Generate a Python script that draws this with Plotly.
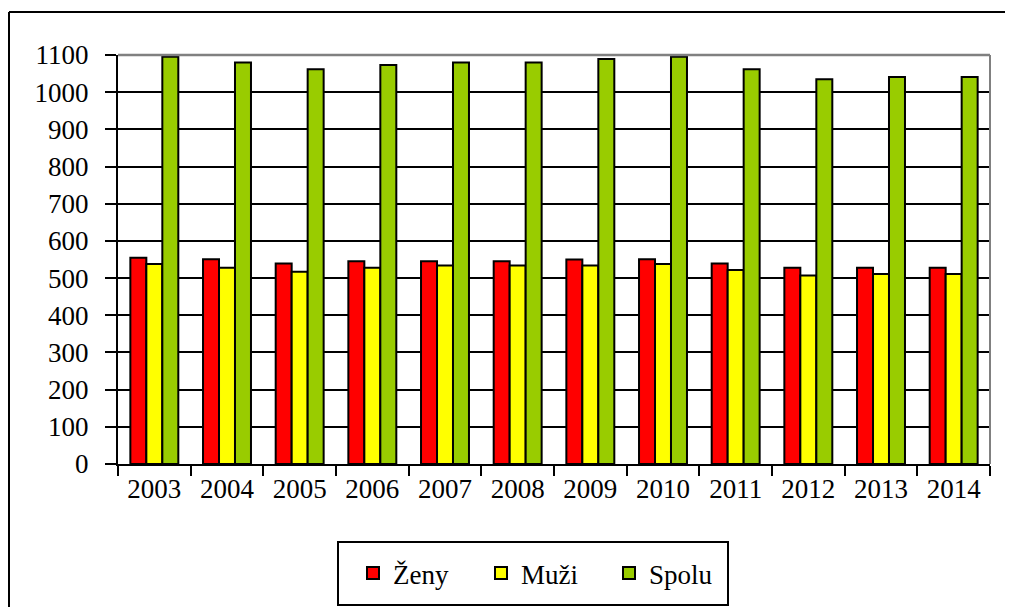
import plotly.graph_objects as go

years = ["2003", "2004", "2005", "2006", "2007", "2008", "2009", "2010", "2011", "2012", "2013", "2014"]
zeny = [555, 551, 539, 545, 545, 545, 550, 551, 539, 528, 528, 528]
muzi = [538, 528, 517, 528, 534, 534, 534, 538, 522, 507, 511, 511]
spolu = [1095, 1080, 1062, 1073, 1080, 1080, 1089, 1095, 1062, 1035, 1041, 1041]
series_names = ["Ženy", "Muži", "Spolu"]
colors = ["#FF0000", "#FFFF00", "#99CC00"]

# page has an 8px body margin; figure coords = page coords - 8
W, H = 997, 599
L, R, T, B = 110, 15, 47, 143
pw = W - L - R
ph = H - T - B

font = "Liberation Serif"

fig = go.Figure()
for name, vals, col in zip(series_names, [zeny, muzi, spolu], colors):
    fig.add_trace(go.Bar(
        x=years, y=vals, name=name,
        marker=dict(color=col, line=dict(color="black", width=2)),
    ))

def px_x(px):
    return (px - L) / pw

def px_y(py):
    return (H - B - py) / ph

shapes = [
    dict(type="line", xref="paper", yref="paper", x0=px_x(1), x1=px_x(1100), y0=px_y(4), y1=px_y(4),
         line=dict(color="black", width=2)),
    dict(type="line", xref="paper", yref="paper", x0=px_x(1), x1=px_x(1), y0=px_y(4), y1=px_y(700),
         line=dict(color="black", width=2)),
    dict(type="line", xref="paper", yref="paper", x0=0, x1=1, y0=1, y1=1,
         line=dict(color="#808080", width=2.5), layer="above"),
    dict(type="line", xref="paper", yref="paper", x0=1, x1=1, y0=0, y1=1,
         line=dict(color="#808080", width=2), layer="above"),
    # legend box
    dict(type="rect", xref="paper", yref="paper", x0=px_x(330), x1=px_x(720), y0=px_y(534), y1=px_y(597),
         line=dict(color="black", width=2), fillcolor="rgba(0,0,0,0)"),
]

fig.update_layout(
    width=W, height=H,
    margin=dict(l=L, r=R, t=T, b=B, autoexpand=False),
    paper_bgcolor="white", plot_bgcolor="white",
    barmode="group", bargap=0.34, bargroupgap=0,
    font=dict(family=font, size=27, color="black"),
    shapes=shapes,
    showlegend=True,
    legend=dict(
        orientation="h", x=px_x(345), xanchor="left", y=px_y(565.5), yanchor="middle",
        borderwidth=0, bgcolor="rgba(0,0,0,0)",
        font=dict(family=font, size=27, color="black"),
        entrywidth=83, entrywidthmode="pixels",
        traceorder="normal",
    ),
    xaxis=dict(
        type="category", showline=True, linecolor="black", linewidth=2,
        ticks="outside", ticklen=10, tickwidth=2, tickcolor="black",
        tickson="boundaries", showgrid=False,
        tickfont=dict(family=font, size=27, color="black"),
    ),
    yaxis=dict(
        range=[0, 1100], tickvals=list(range(0, 1101, 100)),
        showline=True, linecolor="black", linewidth=2,
        ticks="outside", ticklen=11, tickwidth=2, tickcolor="black",
        showgrid=True, gridcolor="black", gridwidth=2,
        zeroline=False, ticklabelstandoff=11,
        tickfont=dict(family=font, size=27, color="black"),
    ),
)

fig.write_html("out.html")
